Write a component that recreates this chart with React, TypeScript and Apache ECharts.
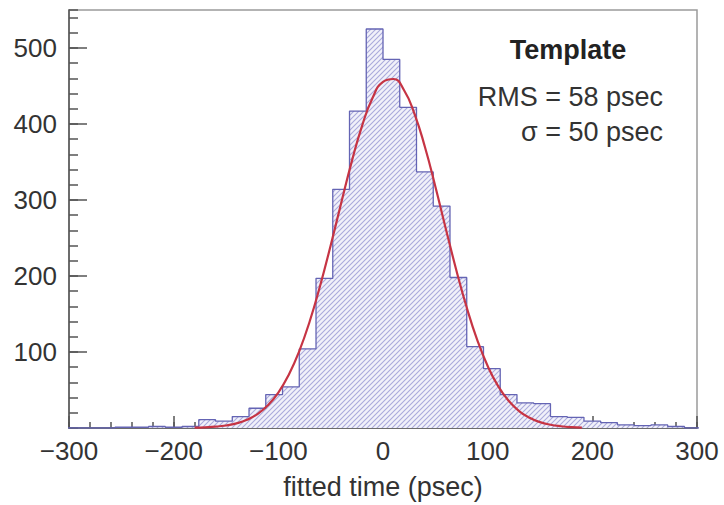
import { useEffect, useRef } from 'react';
import * as echarts from 'echarts';

// Histogram bin edges (psec) and counts per bin
const binEdges = [
  -304, -288, -272, -256, -240, -224, -208, -192, -176, -160, -144, -128, -112, -96, -80, -64, -48, -32, -16,
  0, 16, 32, 48, 64, 80, 96, 112, 128, 144, 160, 176, 192, 208, 224, 240, 256, 272, 288, 304,
];
const counts = [
  0, 0, 0, 1, 1, 2, 1, 2, 11, 9, 15, 26, 44, 54, 104, 197, 314, 417, 525,
  485, 422, 337, 292, 198, 107, 78, 44, 33, 32, 15, 14, 9, 7, 4, 3, 4, 2, 0,
];

// Fitted curve
const fitX = [
  -180, -170, -160, -150, -140, -130, -120, -110, -100, -90, -80, -70, -60, -50, -40, -30, -20, -10,
  0, 10, 20, 30, 40, 50, 60, 70, 80, 90, 100, 110, 120, 130, 140, 150, 160, 170, 180, 190,
];
const fitY = [
  0.4, 0.9, 1.7, 3.3, 6.1, 10.8, 18.3, 29.8, 46.6, 70.1, 101.2, 140.5, 187.5, 240.2, 295.7, 349.8, 397.6, 434.2,
  455.5, 459.2, 444.7, 413.8, 370.0, 317.8, 262.3, 208.0, 158.5, 116.0, 81.6, 55.1, 35.8, 22.3, 13.4, 7.7, 4.3, 2.3, 1.1, 0.5,
];

const legendTitle = 'Template';
const legendLines = ['RMS = 58 psec', 'σ = 50 psec'];
const xTitle = 'fitted time (psec)';

const FONT = "'Liberation Sans', Arial, Helvetica, sans-serif";

function makeHatch(): HTMLCanvasElement {
  const s = 5;
  const c = document.createElement('canvas');
  c.width = s;
  c.height = s;
  const g = c.getContext('2d')!;
  g.fillStyle = '#f1f1fa';
  g.fillRect(0, 0, s, s);
  g.strokeStyle = '#a9a9dc';
  g.lineWidth = 1.1;
  g.beginPath();
  g.moveTo(-1, s + 1);
  g.lineTo(s + 1, -1);
  g.moveTo(-1, 1);
  g.lineTo(1, -1);
  g.moveTo(s - 1, s + 1);
  g.lineTo(s + 1, s - 1);
  g.stroke();
  return c;
}

export default function App() {
  const ref = useRef<HTMLDivElement>(null);
  useEffect(() => {
    if (!ref.current) return;
    const chart = echarts.init(ref.current, null, { renderer: 'svg' });
    const histData = binEdges.map((e, i) => [e, i < counts.length ? counts[i] : 0]);
    const fitData = fitX.map((x, i) => [x, fitY[i]]);
    const axisColor = '#555';
    const minus = (v: number) => String(v).replace('-', '\u2212');
    chart.setOption({
      animation: false,
      backgroundColor: '#fff',
      grid: {
        left: 69,
        right: 27,
        top: 10,
        bottom: 71,
        show: true,
        borderColor: '#9a9a9a',
        borderWidth: 1.5,
        backgroundColor: 'transparent',
      },
      xAxis: [
        {
          type: 'value',
          min: -300,
          max: 300,
          interval: 100,
          position: 'bottom',
          axisLine: { show: true, onZero: false, lineStyle: { color: axisColor, width: 1.5 } },
          axisTick: { show: true, inside: true, length: 12, lineStyle: { color: axisColor, width: 1.5 } },
          axisLabel: { fontSize: 26, color: '#333', fontFamily: FONT, margin: 10, formatter: minus },
          splitLine: { show: false },
          name: xTitle,
          nameLocation: 'middle',
          nameGap: 45,
          nameTextStyle: { fontSize: 27, color: '#333', fontFamily: FONT },
        },
        {
          type: 'value',
          min: -300,
          max: 300,
          interval: 20,
          position: 'bottom',
          axisLine: { show: false, onZero: false },
          axisTick: { show: true, inside: true, length: 6, lineStyle: { color: axisColor, width: 1.5 } },
          axisLabel: { show: false },
          splitLine: { show: false },
        },
      ],
      yAxis: [
        {
          type: 'value',
          min: 0,
          max: 550,
          interval: 100,
          position: 'left',
          axisLine: { show: true, onZero: false, lineStyle: { color: axisColor, width: 1.5 } },
          axisTick: { show: true, inside: true, length: 18, lineStyle: { color: axisColor, width: 1.5 } },
          axisLabel: {
            fontSize: 26,
            color: '#333',
            fontFamily: FONT,
            margin: 12,
            showMinLabel: false,
            showMaxLabel: false,
            formatter: (v: number) => (v === 0 || v > 500 ? '' : String(v)),
          },
          splitLine: { show: false },
        },
        {
          type: 'value',
          min: 0,
          max: 550,
          interval: 20,
          position: 'left',
          axisLine: { show: false, onZero: false },
          axisTick: { show: true, inside: true, length: 9, lineStyle: { color: axisColor, width: 1.5 } },
          axisLabel: { show: false },
          splitLine: { show: false },
        },
      ],
      series: [
        {
          type: 'line',
          xAxisIndex: 0,
          yAxisIndex: 0,
          data: histData,
          step: 'end',
          symbol: 'none',
          lineStyle: { color: '#6464b4', width: 1.3 },
          areaStyle: {
            color: { image: makeHatch(), repeat: 'repeat', imageWidth: 5, imageHeight: 5 },
            opacity: 1,
          },
          z: 2,
        },
        {
          type: 'line',
          xAxisIndex: 0,
          yAxisIndex: 0,
          data: fitData,
          smooth: true,
          symbol: 'none',
          lineStyle: { color: '#c63444', width: 2.2 },
          z: 3,
        },
      ],
      graphic: [
        {
          type: 'text',
          x: 568,
          y: 50,
          style: {
            text: legendTitle,
            textAlign: 'center',
            textVerticalAlign: 'middle',
            fontSize: 27,
            fontWeight: 'bold',
            fontFamily: FONT,
            fill: '#222',
          },
        },
        {
          type: 'text',
          x: 663,
          y: 97,
          style: {
            text: legendLines[0],
            textAlign: 'right',
            textVerticalAlign: 'middle',
            fontSize: 27,
            fontFamily: FONT,
            fill: '#333',
          },
        },
        {
          type: 'text',
          x: 663,
          y: 132,
          style: {
            text: legendLines[1],
            textAlign: 'right',
            textVerticalAlign: 'middle',
            fontSize: 27,
            fontFamily: FONT,
            fill: '#333',
          },
        },
      ],
    });
    return () => chart.dispose();
  }, []);
  return (
    <div
      ref={ref}
      style={{ position: 'absolute', left: 0, top: 0, width: 724, height: 505, background: '#fff' }}
    />
  );
}
